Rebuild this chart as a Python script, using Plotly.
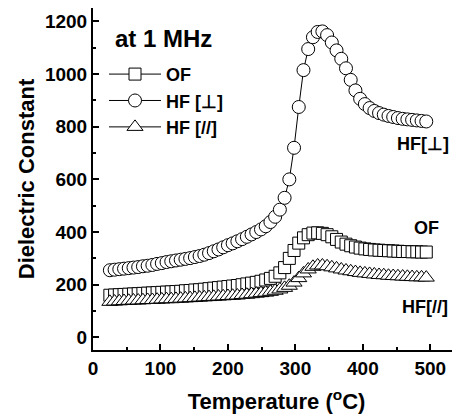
import plotly.graph_objects as go

temps = [25, 32, 39, 46, 53, 60, 67, 74, 81, 88, 95, 102, 109, 116, 123, 130, 137, 144, 151, 158,
         165, 172, 179, 186, 193, 200, 207, 214, 221, 228, 235, 242, 249, 256, 263, 270, 277, 284,
         291, 298, 305, 312, 319, 326, 333, 340, 347, 354, 361, 368, 375, 382, 389, 396, 403, 410,
         417, 424, 431, 438, 445, 452, 459, 466, 473, 480, 487, 494]

of_vals = [160, 161, 162, 163, 164, 165, 166, 167, 168, 169, 170, 171, 172, 173, 174, 175, 177, 178,
           180, 181, 183, 185, 187, 189, 191, 193, 195, 197, 200, 203, 206, 209, 213, 218, 224, 232,
           245, 265, 300, 330, 358, 378, 390, 396, 397, 395, 390, 382, 372, 362, 354, 348, 343, 339,
           336, 334, 332, 331, 330, 329, 328, 327, 326, 326, 325, 325, 324, 324]

hf_perp = [255, 257, 259, 261, 263, 265, 267, 270, 272, 275, 279, 282, 286, 289, 292, 295, 298, 301,
           305, 309, 314, 320, 327, 334, 342, 350, 357, 365, 373, 382, 391, 400, 410, 422, 438, 458,
           485, 530, 600, 720, 875, 1015, 1095, 1140, 1160, 1162, 1148, 1120, 1090, 1058, 1022, 978,
           938, 906, 886, 871, 860, 852, 846, 841, 837, 833, 830, 828, 826, 824, 822, 820]

hf_par = [135, 136, 137, 138, 139, 140, 140, 141, 142, 142, 143, 144, 145, 145, 146, 147, 148, 149,
          150, 151, 152, 153, 154, 155, 156, 157, 158, 159, 161, 162, 164, 166, 168, 170, 173, 177,
          182, 188, 196, 208, 225, 243, 258, 268, 273, 273, 270, 266, 262, 258, 254, 251, 248, 245,
          243, 241, 239, 237, 236, 234, 233, 232, 231, 230, 229, 228, 228, 227]

series_names = ["OF", "HF [⊥]", "HF [//]"]
end_labels = ["OF", "HF[⊥]", "HF[//]"]
x_ticks = [0, 100, 200, 300, 400, 500]
y_ticks = [0, 200, 400, 600, 800, 1000, 1200]

FONT = "Liberation Sans, Arial, sans-serif"

fig = go.Figure()
symbols = ["square", "circle", "triangle-up"]
sizes = [12, 13, 14]
for name, vals, sym, sz in zip(series_names, [of_vals, hf_perp, hf_par], symbols, sizes):
    fig.add_trace(go.Scatter(
        x=temps, y=vals, name=name, mode="lines+markers",
        line=dict(color="black", width=1),
        marker=dict(symbol=sym, size=sz, color="white",
                    line=dict(color="black", width=1)),
    ))

fig.add_annotation(x=0.055, y=0.91, xref="paper", yref="paper", text="at 1 MHz",
                   showarrow=False, xanchor="left", yanchor="middle",
                   font=dict(family=FONT, size=24, color="black", weight="bold"))

label_pos = [(495, 414), (489, 736), (492, 115)]
for txt, (lx, ly) in zip(end_labels, label_pos):
    fig.add_annotation(x=lx, y=ly, text=txt, showarrow=False,
                       font=dict(family=FONT, size=18, color="black", weight="bold"))

axis_common = dict(showline=True, linecolor="black", linewidth=2, ticks="inside",
                   ticklen=6, tickwidth=1.5, tickcolor="black", showgrid=False, zeroline=False,
                   automargin=False,
                   tickfont=dict(family=FONT, size=19, color="black", weight="bold"))

fig.update_xaxes(range=[0, 544], tickvals=x_ticks, mirror=True,
                 minor=dict(dtick=50, ticks="inside", ticklen=3, tickwidth=1.5, tickcolor="black"),
                 title=dict(text="Temperature (<sup>o</sup>C)", standoff=16,
                            font=dict(family=FONT, size=22, color="black", weight="bold")),
                 **axis_common)
fig.update_yaxes(range=[-48, 1251], tickvals=y_ticks,
                 minor=dict(dtick=100, ticks="inside", ticklen=3, tickwidth=1.5, tickcolor="black"),
                 title=dict(text="Dielectric Constant", standoff=4,
                            font=dict(family=FONT, size=22, color="black", weight="bold")),
                 **axis_common)

# the page body adds an 8px offset, so the figure is 8px smaller and margins shifted
fig.update_layout(
    width=452, height=410,
    margin=dict(l=85, r=0, t=0, b=68),
    paper_bgcolor="white", plot_bgcolor="white",
    showlegend=True,
    legend=dict(x=0.03, y=0.86, xanchor="left", yanchor="top", bgcolor="rgba(0,0,0,0)",
                font=dict(family=FONT, size=18, color="black", weight="bold"),
                itemwidth=52, tracegroupgap=0),
)

fig.write_html("out.html")
